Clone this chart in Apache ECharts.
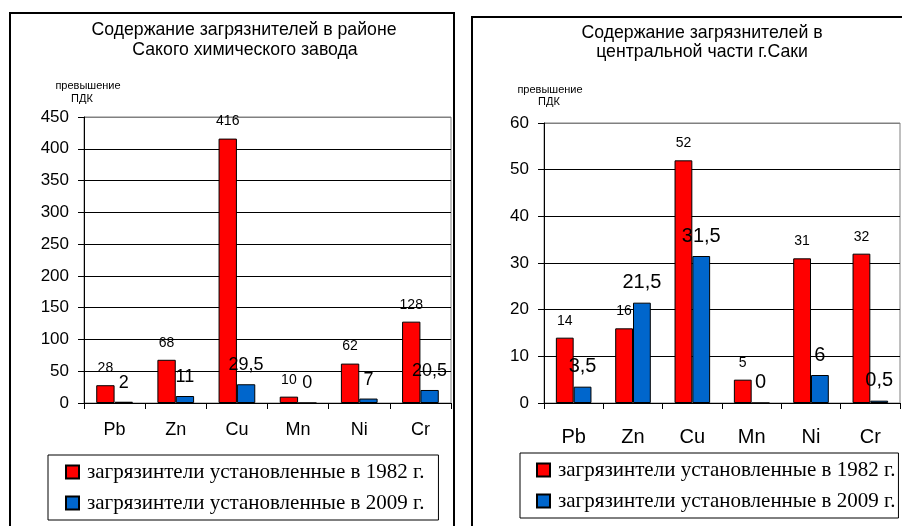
<!DOCTYPE html>
<html>
<head>
<meta charset="utf-8">
<script src="https://cdn.jsdelivr.net/npm/echarts@6/dist/echarts.min.js"></script>
<style>
html,body{margin:0;padding:0;background:#fff;}
#c{width:902px;height:526px;}
</style>
</head>
<body>
<div id="c"></div>
<script>
var categories = ['Pb', 'Zn', 'Cu', 'Mn', 'Ni', 'Cr'];
var seriesNames = ['загрязинтели установленные в 1982 г.', 'загрязинтели установленные в 2009 г.'];
var plantValues1982 = [28, 68, 416, 10, 62, 128];
var plantValues2009 = [2, 11, 29.5, 0, 7, 20.5];
var cityValues1982 = [14, 16, 52, 5, 31, 32];
var cityValues2009 = [3.5, 21.5, 31.5, 0, 6, 0.5];
var leftTitle = ['Содержание загрязнителей в районе', 'Сакого химического завода'];
var rightTitle = ['Содержание загрязнителей в', 'центральной части г.Саки'];
var axisNameLines = ['превышение', 'ПДК'];

var SANS = '"Liberation Sans", Arial, sans-serif';
var SERIF = '"Liberation Serif", "Times New Roman", serif';
var RED = '#FF0000';
var BLUE = '#0066CC';

function fmt(p) { return String(p.value).replace('.', ','); }

function splitColors(n) {
  var arr = [];
  for (var i = 0; i < n; i++) arr.push(i === n - 1 ? '#808080' : '#000000');
  return arr;
}

function xAxis(gi, margin, fs) {
  return {
    type: 'category', gridIndex: gi, data: categories,
    axisLine: { show: true, lineStyle: { color: '#000', width: 1 } },
    axisTick: { show: true, length: 6, lineStyle: { color: '#000' } },
    axisLabel: { color: '#000', fontFamily: SANS, fontSize: fs, margin: margin },
    splitLine: { show: false }
  };
}
function yAxis(gi, max, interval) {
  return {
    type: 'value', gridIndex: gi, min: 0, max: max, interval: interval,
    axisLine: { show: true, lineStyle: { color: '#000', width: 1 } },
    axisTick: { show: true, length: 6, lineStyle: { color: '#000' } },
    axisLabel: { color: '#000', fontFamily: SANS, fontSize: 17, margin: 15 },
    splitLine: { show: true, lineStyle: { color: splitColors(max / interval + 1), width: 1 } }
  };
}
function bar(name, data, color, gi, fs) {
  return {
    name: name, type: 'bar', xAxisIndex: gi, yAxisIndex: gi, data: data,
    barGap: '0%', barCategoryGap: '40%',
    itemStyle: { color: color, borderColor: '#000', borderWidth: 1 },
    label: { show: true, position: 'top', distance: 10, color: '#000', fontFamily: SANS, fontSize: fs, formatter: fmt },
    animation: false
  };
}
function legend(left, top, padLeft, padRight) {
  return {
    left: left, top: top, orient: 'vertical',
    data: seriesNames,
    borderColor: '#000', borderWidth: 1,
    padding: [6, padRight, 6, padLeft],
    itemWidth: 13, itemHeight: 13, itemGap: 9,
    icon: 'rect',
    selectedMode: false,
    textStyle: { color: '#000', fontFamily: SERIF, fontSize: 21, lineHeight: 22, padding: [0, 0, 0, 3] }
  };
}
function txt(x, y, s, fs) {
  return { type: 'text', x: x, y: y, style: { text: s, fill: '#000', font: fs + 'px ' + SANS, textAlign: 'center', textVerticalAlign: 'middle' } };
}

var chart = echarts.init(document.getElementById('c'), null, { renderer: 'canvas' });
chart.setOption({
  backgroundColor: '#fff',
  animation: false,
  grid: [
    { left: 84, top: 117, width: 367, height: 286, show: true, borderColor: '#808080', borderWidth: 1, backgroundColor: 'transparent' },
    { left: 544, top: 123, width: 356, height: 280, show: true, borderColor: '#808080', borderWidth: 1, backgroundColor: 'transparent' }
  ],
  xAxis: [xAxis(0, 18, 18), xAxis(1, 24, 20)],
  yAxis: [yAxis(0, 450, 50), yAxis(1, 60, 10)],
  legend: [legend(48, 455, 17, 14), legend(520, 453, 16, 3)],
  series: [
    bar(seriesNames[0], plantValues1982, RED, 0, 14),
    bar(seriesNames[1], plantValues2009, BLUE, 0, 18),
    bar(seriesNames[0], cityValues1982, RED, 1, 14),
    bar(seriesNames[1], cityValues2009, BLUE, 1, 20)
  ],
  graphic: [
    { type: 'rect', shape: { x: 10, y: 13, width: 444, height: 600 }, style: { fill: 'none', stroke: '#000', lineWidth: 2 }, silent: true },
    { type: 'rect', shape: { x: 472, y: 17, width: 500, height: 600 }, style: { fill: 'none', stroke: '#000', lineWidth: 2 }, silent: true },
    txt(244, 30, leftTitle[0], 17.7),
    txt(245, 50, leftTitle[1], 17.7),
    txt(702, 33, rightTitle[0], 17.7),
    txt(702, 52, rightTitle[1], 17.7),
    txt(88, 86, axisNameLines[0], 11),
    txt(82, 99, axisNameLines[1], 11),
    txt(550, 90, axisNameLines[0], 11),
    txt(549, 102, axisNameLines[1], 11)
  ]
});
</script>
</body>
</html>
